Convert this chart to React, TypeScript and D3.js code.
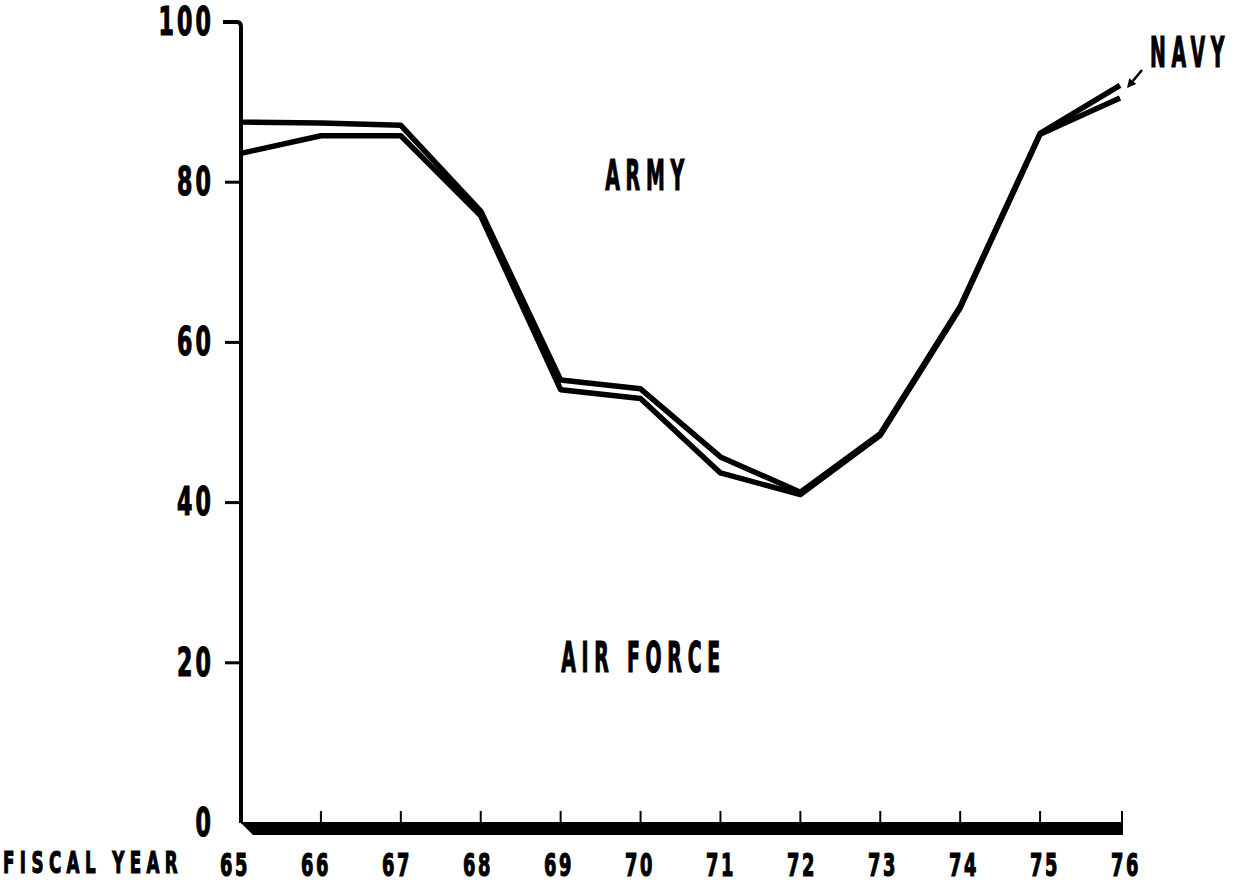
import React from "react";
import * as d3 from "d3";

const years = [65, 66, 67, 68, 69, 70, 71, 72, 73, 74, 75, 76];
const armyNavyBoundary = [87.5, 87.4, 87.1, 76.4, 55.3, 54.2, 45.7, 41.3, 48.6, 64.5, 86.1, 92.1];
const navyAirForceBoundary = [83.6, 85.8, 85.8, 75.8, 54.1, 53.0, 43.7, 41.0, 48.4, 64.3, 86.0, 90.5];
const yTicks = [0, 20, 40, 60, 80, 100];
const areaLabels = [
  { text: "ARMY", year: 70.05, value: 80.5 },
  { text: "AIR FORCE", year: 70.0, value: 20.3 },
];

const W = 1238;
const H = 887;
const FONT = "'DejaVu Sans Condensed', 'DejaVu Sans', sans-serif";

const x = d3.scaleLinear().domain([65, 76]).range([241, 1120]);
const xLabel = d3.scaleLinear().domain([65, 76]).range([234, 1125]);
const y = d3.scaleLinear().domain([0, 100]).range([823, 22]);

function Txt({ x: tx, y: ty, text, size, sx, ls, anchor }: any) {
  return (
    <text
      transform={`translate(${tx},${ty}) scale(${sx},1)`}
      textAnchor={anchor}
      fontFamily={FONT}
      fontWeight="bold"
      fontSize={size}
      letterSpacing={ls}
      fill="#000"
      stroke="#000"
      strokeWidth={1.2}
      dominantBaseline="middle"
    >
      {text}
    </text>
  );
}

export default function App() {
  const line = d3
    .line<number>()
    .x((_, i) => x(years[i]))
    .y((d) => y(d));

  const x0 = x(65);
  const xEnd = x(76);
  const yBase = y(0);

  // arrow
  const ax1 = 1142, ay1 = 70, ax2 = 1127, ay2 = 88;
  const ang = Math.atan2(ay2 - ay1, ax2 - ax1);
  const hl = 9, hw = 4.5;
  const bx = ax2 - hl * Math.cos(ang), by = ay2 - hl * Math.sin(ang);
  const head = `M${ax2},${ay2} L${bx + hw * Math.sin(ang)},${by - hw * Math.cos(ang)} L${bx - hw * Math.sin(ang)},${by + hw * Math.cos(ang)} Z`;

  return (
    <div style={{ position: "absolute", left: 0, top: 0 }}>
      <svg width={W} height={H} style={{ display: "block", background: "#fff" }}>
        {/* y axis */}
        <path
          d={`M${x0 - 18},${y(100)} L${x0 - 4},${y(100)} Q${x0},${y(100)} ${x0},${y(100) + 5} L${x0},${yBase}`}
          fill="none"
          stroke="#000"
          strokeWidth={4}
        />
        {yTicks.filter((t) => t > 0 && t < 100).map((t) => (
          <line key={t} x1={x0 - 16} x2={x0} y1={y(t)} y2={y(t)} stroke="#000" strokeWidth={3} />
        ))}
        {yTicks.map((t) => (
          <Txt key={t} x={214} y={y(t) + 2} text={String(t)} size={39} sx={0.63} ls={5} anchor="end" />
        ))}

        {/* x axis */}
        <line x1={x0} x2={xEnd + 2} y1={yBase} y2={yBase} stroke="#000" strokeWidth={2} />
        <path
          d={`M${x0},${yBase} L${xEnd + 3},${yBase} L${xEnd + 3},${yBase + 12} L${x0 + 12},${yBase + 12} Z`}
          fill="#000"
        />
        {years.filter((t) => t > 65).map((t) => (
          <line key={t} x1={x(t) + (t === 76 ? 2 : 0)} x2={x(t) + (t === 76 ? 2 : 0)} y1={yBase - 12} y2={yBase} stroke="#000" strokeWidth={2} />
        ))}
        {years.map((t) => (
          <Txt key={t} x={xLabel(t) + 1} y={867} text={String(t)} size={32} sx={0.62} ls={4} anchor="middle" />
        ))}
        <Txt x={3} y={865} text="FISCAL YEAR" size={31} sx={0.6} ls={9} anchor="start" />

        {/* boundary lines */}
        <path d={line(armyNavyBoundary) || ""} fill="none" stroke="#000" strokeWidth={5.5} strokeLinejoin="round" />
        <path d={line(navyAirForceBoundary) || ""} fill="none" stroke="#000" strokeWidth={5.5} strokeLinejoin="round" />

        {/* area labels */}
        {areaLabels.map((l) => (
          <Txt key={l.text} x={x(l.year) + 3} y={y(l.value)} text={l.text} size={42} sx={0.5} ls={11.5} anchor="middle" />
        ))}
        <Txt x={1150} y={55} text="NAVY" size={42} sx={0.5} ls={11.5} anchor="start" />
        <line x1={ax1} y1={ay1} x2={bx} y2={by} stroke="#000" strokeWidth={2.5} />
        <path d={head} fill="#000" />
      </svg>
    </div>
  );
}
